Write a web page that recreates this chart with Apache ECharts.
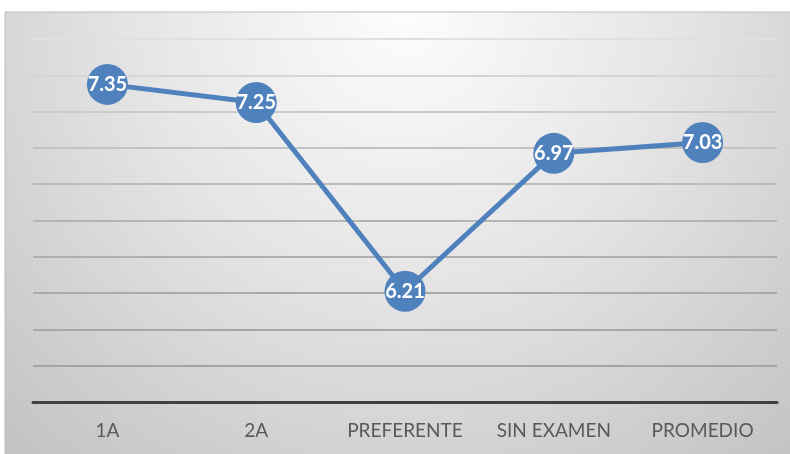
<!DOCTYPE html>
<html>
<head>
<meta charset="utf-8">
<script src="https://cdn.jsdelivr.net/npm/echarts@6/dist/echarts.min.js"></script>
<style>html,body{margin:0;padding:0;background:#fff;}#c{width:790px;height:454px;}</style>
</head>
<body>
<div id="c"></div>
<script>
var categories = ['1A', '2A', 'PREFERENTE', 'SIN EXAMEN', 'PROMEDIO'];
var values = [7.35, 7.25, 6.21, 6.97, 7.03];
var yMin = 5.6, yMax = 7.6, yStep = 0.2;
var gridColors = ['#999999','#a4a4a4','#a7a7a7','#aaaaaa','#afafaf','#b4b4b4','#bbbbbb','#c3c3c3','#cbcbcb','#d5d5d5','#e0e0e0'];

var chart = echarts.init(document.getElementById('c'), null, {renderer: 'canvas'});
chart.setOption({
  backgroundColor: '#ffffff',
  animation: false,
  graphic: [{
    type: 'rect', z: -10, silent: true,
    shape: {x: 5, y: 12, width: 800, height: 460},
    style: {
      fill: {type: 'radial', x: 0.5, y: 0.0, r: 1.3,
        colorStops: [{offset: 0, color: '#fdfdfd'}, {offset: 0.45, color: '#e5e5e5'}, {offset: 0.8, color: '#cecece'}, {offset: 1, color: '#c2c2c2'}]},
      stroke: '#bdbdbd', lineWidth: 1
    }
  }],
  grid: {left: 33, right: 13, top: 39, bottom: 52, containLabel: false},
  xAxis: {
    type: 'category', data: categories, boundaryGap: true,
    axisLine: {show: true, lineStyle: {color: '#404040', width: 3}},
    axisTick: {show: false},
    axisLabel: {interval: 0, hideOverlap: false, color: '#595959', fontFamily: 'Lato', fontSize: 19, margin: 19}
  },
  yAxis: {
    type: 'value', min: yMin, max: yMax, interval: yStep,
    axisLine: {show: false}, axisTick: {show: false}, axisLabel: {show: false},
    splitLine: {show: true, lineStyle: {color: gridColors, width: 2}}
  },
  series: [{
    type: 'line', data: values,
    symbol: 'circle', symbolSize: 41,
    lineStyle: {color: '#4f81bd', width: 5},
    itemStyle: {color: '#4f81bd'},
    label: {show: true, position: 'inside', color: '#ffffff', fontFamily: 'Lato', fontWeight: 'bold', fontSize: 20,
      formatter: function (p) { return p.value.toFixed(2); }}
  }]
});
</script>
</body>
</html>
